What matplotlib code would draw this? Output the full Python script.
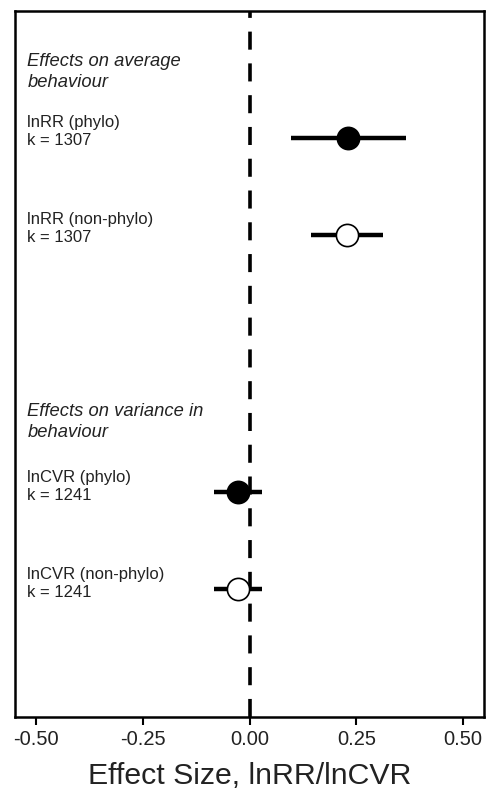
import matplotlib
matplotlib.use("Agg")
import matplotlib.pyplot as plt
import matplotlib.transforms as mtransforms

# Data
labels = ["lnRR (phylo)\nk = 1307", "lnRR (non-phylo)\nk = 1307",
          "lnCVR (phylo)\nk = 1241", "lnCVR (non-phylo)\nk = 1241"]
estimates = [0.231, 0.227, -0.028, -0.028]
ci_low = [0.096, 0.145, -0.084, -0.084]
ci_high = [0.367, 0.313, 0.030, 0.030]
filled = [True, False, True, False]
row_pos = [1.0, 2.0, 4.65, 5.65]
headings = ["Effects on average\nbehaviour", "Effects on variance in\nbehaviour"]
heading_pos = [0.32, 3.93]
label_pos = [0.93, 1.93, 4.59, 5.59]
xticks = [-0.50, -0.25, 0.00, 0.25, 0.50]
xtick_labels = ["-0.50", "-0.25", "0.00", "0.25", "0.50"]

plt.rcParams['font.family'] = ['Liberation Sans', 'DejaVu Sans']

fig = plt.figure(figsize=(4.86, 7.93), dpi=100)
ax = fig.add_axes([0.031, 0.0958, 0.965, 0.890])

ax.axvline(0, color='black', lw=2.6, ls=(0, (5, 3.8)), zorder=1)

for y, est, lo, hi, f in zip(row_pos, estimates, ci_low, ci_high, filled):
    ax.plot([lo, hi], [y, y], color='black', lw=3.2, solid_capstyle='butt', zorder=2)
    ax.plot([est], [y], marker='o', ms=16, mec='black', mew=1.2,
            mfc='black' if f else 'white', zorder=3, linestyle='none')

trans = mtransforms.blended_transform_factory(ax.transAxes, ax.transData)
for txt, y in zip(headings, heading_pos):
    ax.text(0.026, y, txt, transform=trans, fontsize=13.2, style='italic',
            va='center', ha='left', linespacing=1.32, color='#222222')
for txt, y in zip(labels, label_pos):
    ax.text(0.026, y, txt, transform=trans, fontsize=12,
            va='center', ha='left', linespacing=1.25, color='#222222')

ax.set_xlim(-0.549, 0.549)
ax.set_ylim(6.969, -0.309)
ax.set_yticks([])
ax.set_xticks(xticks)
ax.set_xticklabels(xtick_labels, fontsize=14.5, color='#222222')
ax.tick_params(axis='x', length=6, width=1.5, pad=3)
for s in ax.spines.values():
    s.set_linewidth(1.8)
ax.set_xlabel("Effect Size, lnRR/lnCVR", fontsize=21.8, labelpad=10, color='#222222')

fig.savefig("out.png", dpi=100)
